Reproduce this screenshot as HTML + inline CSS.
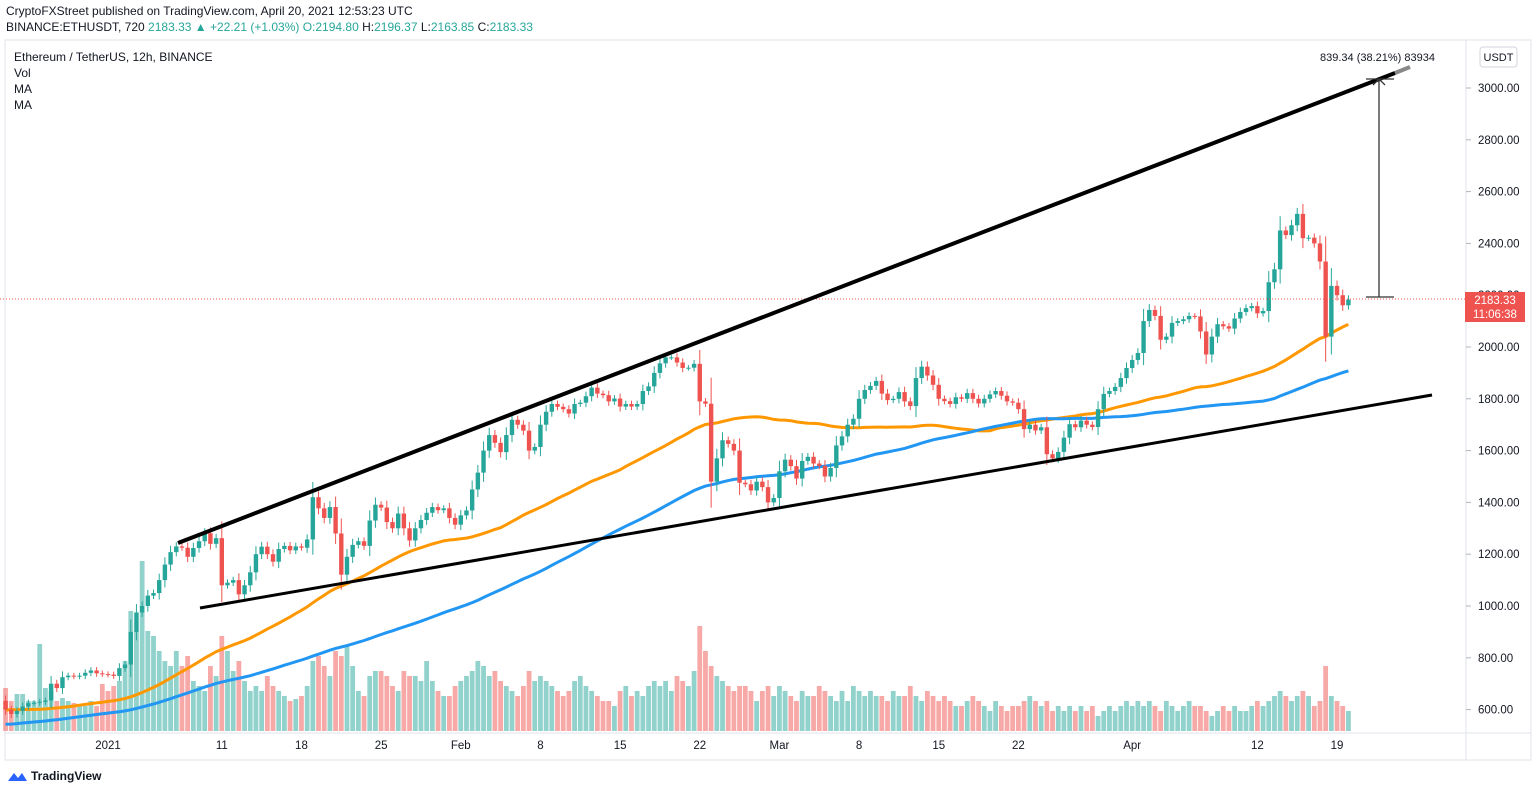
<!DOCTYPE html>
<html><head><meta charset="utf-8"><style>
body{margin:0;background:#fff;font-family:"Liberation Sans",sans-serif;}
svg{display:block}
text{font-family:"Liberation Sans",sans-serif;}
</style></head><body>
<svg id="chart" width="1536" height="793" viewBox="0 0 1536 793" xmlns="http://www.w3.org/2000/svg">
<rect width="1536" height="793" fill="#fff"/>
<text x="6" y="15" font-size="12" fill="#131722">CryptoFXStreet published on TradingView.com, April 20, 2021 12:53:23 UTC</text>
<text x="6" y="31" font-size="12" fill="#131722">BINANCE:ETHUSDT, 720 <tspan fill="#26a69a">2183.33 ▲ +22.21 (+1.03%) O:</tspan><tspan fill="#26a69a">2194.80</tspan> H:<tspan fill="#26a69a">2196.37</tspan> L:<tspan fill="#26a69a">2163.85</tspan> C:<tspan fill="#26a69a">2183.33</tspan></text>
<rect x="5" y="40" width="1526" height="720" fill="none" stroke="#e0e3eb"/>
<line x1="1466" y1="40" x2="1466" y2="760" stroke="#e0e3eb"/>
<line x1="5" y1="733" x2="1531" y2="733" stroke="#e0e3eb"/>
<g id="vol"></g>
<g id="ma"></g>
<g id="candles"></g>
<g id="yaxis"></g>
<g id="xaxis"></g>
<line x1="0" y1="299" x2="1466" y2="299" stroke="#ef5350" stroke-dasharray="1,2"/>
<line x1="178" y1="543" x2="1395" y2="73" stroke="#000" stroke-width="4"/>
<line x1="1395" y1="73" x2="1410" y2="67" stroke="#888" stroke-width="4"/>
<line x1="200" y1="608" x2="1432" y2="395" stroke="#000" stroke-width="3"/>
<g>
<line x1="1379" y1="79" x2="1379" y2="297" stroke="#333" stroke-width="1.3"/>
<line x1="1366" y1="79" x2="1394" y2="79" stroke="#333" stroke-width="1.3"/>
<line x1="1366" y1="297" x2="1394" y2="297" stroke="#333" stroke-width="1.3"/>
<polyline points="1373,85 1379,79 1385,85" fill="none" stroke="#333" stroke-width="1.3"/>
</g>
<text x="1435" y="61" font-size="11" text-anchor="end" fill="#131722">839.34 (38.21%) 83934</text>
<text x="14" y="61" font-size="12" fill="#131722">Ethereum / TetherUS, 12h, BINANCE</text>
<text x="14" y="77" font-size="12" fill="#131722">Vol</text>
<text x="14" y="93" font-size="12" fill="#131722">MA</text>
<text x="14" y="109" font-size="12" fill="#131722">MA</text>
<rect x="1480" y="47" width="37" height="20" rx="3" fill="#fff" stroke="#d1d4dc"/>
<text x="1498.5" y="61" font-size="11" text-anchor="middle" fill="#131722">USDT</text>
<rect x="1465" y="292" width="60" height="30" fill="#ef5350"/>
<text x="1495" y="304" font-size="11.5" text-anchor="middle" fill="#fff">2183.33</text>
<text x="1495" y="318" font-size="11.5" text-anchor="middle" fill="#fff">11:06:38</text>
<g>
<path d="M8 781 l6 -8 l4 5 l4 -5 l5 8 z" fill="#2962ff"/>
<text x="31" y="780" font-size="12" fill="#131722" font-weight="bold">TradingView</text>
</g>
</svg>
<script>
const closes=[600,583,595,612,625,626,630,635,700,683,725,731,728,731,742,751,740,737,
735,730,760,774,900,975,1000,1040,1050,1100,1160,1208,1230,1225,1190,1224,1250,1281,1240,1262,
1080,1090,1100,1045,1080,1130,1200,1229,1200,1171,1220,1232,1215,1230,1225,1257,1420,1377,1340,1382,
1280,1121,1190,1236,1250,1232,1330,1391,1380,1324,1300,1357,1300,1253,1300,1332,1360,1382,1370,1377,1340,1314,
1350,1369,1450,1515,1600,1660,1630,1594,1660,1719,1700,1677,1600,1614,1700,1750,1780,1769,1760,1743,
1780,1785,1810,1843,1820,1814,1790,1801,1770,1780,1770,1780,1830,1848,1900,1937,1960,1960,1940,1919,1920,1935,
1790,1781,1480,1570,1640,1626,1600,1476,1470,1446,1480,1459,1400,1417,
1520,1565,1540,1492,1560,1576,1550,1541,1500,1533,1620,1655,1700,1723,1800,1834,1850,1869,1820,1795,
1800,1826,1790,1772,1880,1924,1890,1854,1800,1791,1780,1806,1800,1822,1800,1782,1800,1817,1830,1812,
1790,1785,1760,1683,1700,1678,1690,1586,1570,1595,1650,1702,1690,1716,1700,1691,1760,1819,1830,1846,1880,1919,
1950,1977,2100,2143,2120,2028,2040,2093,2100,2107,2120,2118,2060,1971,2040,2088,2080,2071,2110,2135,2150,2158,
2130,2139,2250,2300,2450,2432,2470,2514,2420,2422,2400,2330,2040,2236,2200,2161,2183];
const volumes=[43,30,37,37,30,30,87,43,40,30,33,30,28,25,25,30,25,47,
40,45,50,70,120,100,170,100,95,80,70,65,80,65,75,50,45,40,65,55,
95,80,60,70,50,40,45,40,55,45,40,35,30,32,35,45,70,75,65,55,
80,75,85,65,40,35,55,60,60,55,45,40,60,55,55,50,70,50,40,35,35,45,
50,55,60,70,65,55,60,50,45,40,35,45,60,50,55,50,45,40,35,40,
50,55,45,40,35,30,30,25,40,45,35,40,35,45,50,45,50,40,55,50,45,60,
105,80,65,55,50,45,40,45,45,40,30,40,45,35,
45,40,35,30,40,35,35,45,40,35,30,40,30,45,40,35,40,35,35,30,
40,35,35,45,35,30,40,35,30,35,30,25,25,30,35,30,25,20,30,25,
20,25,25,30,35,30,25,30,20,25,20,25,20,25,20,25,15,20,25,20,25,30,
25,30,25,30,25,20,30,25,20,25,30,25,25,20,15,20,25,20,25,20,20,25,
30,25,30,35,40,35,30,35,40,35,25,30,65,35,30,25,20];
const prehistory=[402,415,455,435,453,444,449,463,461,475,461,448,460,482,479,471,509,549,559,608,603,569,518,517,538,576,616,588,598,616,569,596,601,592,555,573,560,545,568,590,586,589,636,642,654,658,638,609,634];
const priceTicks=[3000,2800,2600,2400,2200,2000,1800,1600,1400,1200,1000,800,600];
const dateLabels=["2021","11","18","25","Feb","8","15","22","Mar","8","15","22","Apr","12","19"];
const dateIndex=[18,38,52,66,80,94,108,122,136,150,164,178,198,220,234];

const NS="http://www.w3.org/2000/svg";
function py(p){return 347-(p-2000)*0.259;}
function px(i){return 108+(i-18)*5.69;}
function mk(tag,attrs,parent){const e=document.createElementNS(NS,tag);for(const k in attrs)e.setAttribute(k,attrs[k]);parent.appendChild(e);return e;}
const gC=document.getElementById('candles'),gV=document.getElementById('vol'),gM=document.getElementById('ma'),gY=document.getElementById('yaxis'),gX=document.getElementById('xaxis');
let prev=634;
closes.forEach((c,i)=>{
  const o=prev;prev=c;
  const up=c>=o,col=up?'#26a69a':'#ef5350';
  const d=Math.abs(c-o);
  const hi=Math.max(o,c)+d*0.3+10,lo=Math.min(o,c)-d*0.3-10;
  const x=px(i);
  const w=mk('line',{x1:x,x2:x,y1:py(hi),y2:py(lo),stroke:col,'stroke-width':1},gC);
  
  
  const top=py(Math.max(o,c)),h=Math.max(1,py(Math.min(o,c))-top);
  const b=mk('rect',{x:x-2.2,y:top,width:4.4,height:h,fill:col},gC);
  
  
  const vh=volumes[i]*1.0;
  const v=mk('rect',{x:x-2.4,y:731-vh,width:4.8,height:vh,fill:up?'rgba(38,166,154,0.5)':'rgba(239,83,80,0.5)'},gV);
  
  
});
const full=[];prehistory.forEach(p=>{full.push(p,p);});closes.forEach(c=>full.push(c));
const off=full.length-closes.length;
function maPath(n){let d='';for(let i=0;i<closes.length;i++){const j=i+off;const s=Math.max(0,j-n+1);let sum=0;for(let k=s;k<=j;k++)sum+=full[k];const m=sum/(j-s+1);d+=(i?'L':'M')+px(i).toFixed(1)+' '+py(m).toFixed(1);}return d;}
const m1=mk('path',{d:maPath(50),fill:'none',stroke:'#ff9800','stroke-width':3},gM);


const m2=mk('path',{d:maPath(100),fill:'none',stroke:'#2196f3','stroke-width':3},gM);


priceTicks.forEach(p=>{
  const t=mk('text',{x:1478,y:py(p)+4,'font-size':11.5,fill:'#131722'},gY);t.textContent=p.toFixed(2);
  
  
  mk('line',{x1:1466,x2:1471,y1:py(p),y2:py(p),stroke:'#b2b5be'},gY);
});
dateLabels.forEach((l,k)=>{
  const t=mk('text',{x:px(dateIndex[k]),y:749,'font-size':11.5,fill:'#131722','text-anchor':'middle'},gX);t.textContent=l;
  
  
});
</script>
</body></html>
